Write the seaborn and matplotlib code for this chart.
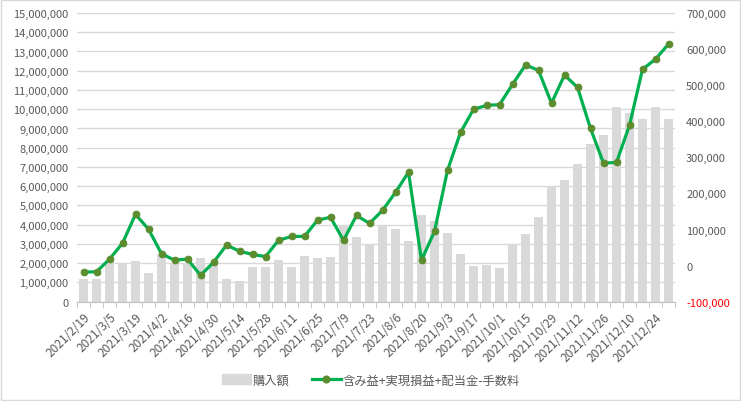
import numpy as np
import pandas as pd
import seaborn as sns
import matplotlib.pyplot as plt
from matplotlib.ticker import FuncFormatter, MultipleLocator, FixedLocator
from matplotlib.patches import Rectangle
from matplotlib.lines import Line2D

dates = pd.date_range('2021-02-19', periods=46, freq='7D')
labels = [f'{d.year}/{d.month}/{d.day}' for d in dates]

# 購入額 (left axis)
purchase = [1.18, 1.18, 2.05, 2.0, 2.1, 1.5, 2.5, 2.0, 1.95, 2.25,
            2.0, 1.2, 1.05, 1.8, 1.8, 2.15, 1.8, 2.4, 2.25, 2.3,
            4.0, 3.35, 2.98, 4.0, 3.78, 3.14, 4.49, 4.18, 3.55, 2.5,
            1.87, 1.9, 1.73, 2.93, 3.5, 4.38, 6.0, 6.3, 7.14, 8.18,
            8.64, 10.1, 9.79, 9.47, 10.1, 9.47]
purchase = [v * 1_000_000 for v in purchase]

# 含み益+実現損益+配当金-手数料 (right axis)
profit = [-18, -17, 18, 62, 142, 101, 33, 15, 18, -27,
          9, 57, 40, 31, 25, 70, 81, 81, 126, 134,
          70, 139, 117, 153, 203, 259, 15, 95, 264, 369,
          433, 444, 446, 502, 556, 541, 450, 528, 494, 380,
          284, 286, 389, 544, 572, 614]
profit = [v * 1000 for v in profit]

df = pd.DataFrame({'date': labels, 'purchase': purchase, 'profit': profit})
df['pos'] = np.arange(len(df))

plt.rcParams['font.family'] = ['Noto Sans CJK JP', 'DejaVu Sans']
txt = '#595959'
green = '#00B050'
marker_c = '#5B8C2E'

fig = plt.figure(figsize=(7.41, 4.02), dpi=100)
ax = fig.add_axes([77 / 741, 1 - 302.7 / 402, (675 - 77) / 741, (302.7 - 14) / 402])

sns.barplot(data=df, x='pos', y='purchase', color='#D9D9D9', saturation=1,
            width=0.68, ax=ax, zorder=2)
ax.set_ylim(0, 15_000_000)
ax.yaxis.set_major_locator(MultipleLocator(1_000_000))
ax.yaxis.set_major_formatter(FuncFormatter(lambda v, p: f'{int(v):,}'))
ax.grid(axis='y', color='#D9D9D9', linewidth=1, zorder=0)
ax.set_axisbelow(True)

ax2 = ax.twinx()
sns.lineplot(data=df, x='pos', y='profit', color=green, linewidth=2.3,
             marker='o', markersize=4.8, markerfacecolor=marker_c,
             markeredgecolor=marker_c, ax=ax2, zorder=3)
ax2.set_ylim(-100_000, 700_000)
ax2.yaxis.set_major_locator(MultipleLocator(100_000))
ax2.yaxis.set_major_formatter(FuncFormatter(lambda v, p: f'{int(round(v)):,}'))

ax.set_xlim(-0.5, len(df) - 0.5)
ax.set_xticks(df['pos'][::2])
ax.set_xticklabels(df['date'][::2], rotation=45, ha='right',
                   rotation_mode='anchor', color=txt, fontsize=8.6)
ax.xaxis.set_minor_locator(FixedLocator(np.arange(-0.5, len(df), 1)))
ax.tick_params(axis='x', which='major', length=0, pad=6)
ax.tick_params(axis='x', which='minor', length=4, color='#BFBFBF')
ax.tick_params(axis='y', length=0, labelsize=8, labelcolor=txt, pad=6)
ax2.tick_params(axis='y', length=0, labelsize=8, labelcolor=txt, pad=8)

for a in (ax, ax2):
    for s in ['top', 'left', 'right']:
        a.spines[s].set_visible(False)
    a.set_xlabel('')
    a.set_ylabel('')
ax.spines['bottom'].set_color('#BFBFBF')
ax2.spines['bottom'].set_visible(False)

handles = [Rectangle((0, 0), 1, 1, color='#D9D9D9'),
           Line2D([0], [0], color=green, linewidth=2.3, marker='o',
                  markersize=4.8, markerfacecolor=marker_c, markeredgecolor=marker_c)]
leg = fig.legend(handles, ['購入額', '含み益+実現損益+配当金-手数料'],
                 loc='center', bbox_to_anchor=(371 / 741, 1 - 381 / 402),
                 ncol=2, frameon=False, fontsize=8.8, handlelength=2.4,
                 handleheight=0.9, columnspacing=1.8, handletextpad=0.15)
for t in leg.get_texts():
    t.set_color(txt)

fig.patches.append(Rectangle((0.001, 0.002), 0.997, 0.995, transform=fig.transFigure,
                             fill=False, edgecolor='#D9D9D9', linewidth=1))

# negative values on the right axis in red
fig.canvas.draw()
for t in ax2.get_yticklabels():
    if t.get_text().startswith(('-', '\u2212')):
        t.set_color('red')

fig.savefig('out.png', dpi=100)
